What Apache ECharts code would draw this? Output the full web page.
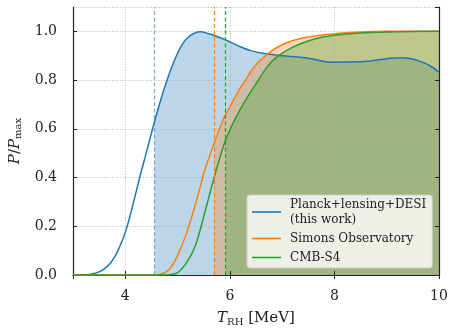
<!DOCTYPE html>
<html>
<head>
<meta charset="utf-8">
<script src="https://cdn.jsdelivr.net/npm/echarts@6/dist/echarts.min.js"></script>
<style>
  html, body { margin: 0; padding: 0; background: #fff; }
  #chart { width: 449px; height: 333px; }
</style>
</head>
<body>
<div id="chart"></div>
<script>
const planckX = [3.0, 3.2, 3.3, 3.4, 3.5, 3.6, 3.7, 3.8, 3.9, 4.0, 4.1, 4.2, 4.3, 4.4, 4.56, 4.7, 4.8, 4.9, 5.0, 5.1, 5.2, 5.3, 5.43, 5.6, 5.8, 5.92, 6.0, 6.2, 6.4, 6.7, 7.0, 7.5, 8.0, 8.5, 9.0, 9.3, 9.6, 9.8, 10.0]
const planckY = [0, 0, 0.002, 0.006, 0.013, 0.025, 0.045, 0.075, 0.12, 0.175, 0.25, 0.335, 0.42, 0.5, 0.63, 0.735, 0.8, 0.86, 0.91, 0.95, 0.975, 0.99, 0.998, 0.99, 0.975, 0.965, 0.957, 0.937, 0.921, 0.908, 0.9, 0.89, 0.873, 0.875, 0.888, 0.892, 0.88, 0.862, 0.833]

const simonsX = [3.0, 4.6, 4.7, 4.8, 4.9, 5.0, 5.1, 5.2, 5.3, 5.4, 5.5, 5.6, 5.7, 5.8, 5.9, 6.0, 6.15, 6.3, 6.45, 6.6, 6.8, 7.0, 7.25, 7.5, 8.0, 8.5, 9.0, 10.0]
const simonsY = [0, 0, 0.005, 0.015, 0.04, 0.08, 0.13, 0.19, 0.26, 0.335, 0.415, 0.48, 0.54, 0.6, 0.65, 0.69, 0.75, 0.8, 0.85, 0.885, 0.92, 0.945, 0.965, 0.977, 0.99, 0.997, 1.0, 1.0]

const cmbX = [3.0, 4.8, 4.9, 5.0, 5.1, 5.2, 5.3, 5.4, 5.5, 5.6, 5.7, 5.8, 5.92, 6.0, 6.1, 6.2, 6.35, 6.5, 6.7, 6.9, 7.2, 7.6, 8.0, 8.5, 9.0, 10.0]
const cmbY = [0, 0, 0.003, 0.01, 0.03, 0.06, 0.1, 0.16, 0.24, 0.32, 0.4, 0.475, 0.555, 0.595, 0.64, 0.68, 0.735, 0.785, 0.85, 0.895, 0.935, 0.968, 0.984, 0.993, 0.997, 1.0]

const names = ['Planck+lensing+DESI\n(this work)', 'Simons Observatory', 'CMB-S4']
const lowerBounds = [4.56, 5.70, 5.92]
const colors = ['#1f77b4', '#ff7f0e', '#2ca02c']
const dashColors = ['rgba(31,119,180,0.6)', '#ff7f0e', '#2ca02c']

const curves = [[planckX, planckY], [simonsX, simonsY], [cmbX, cmbY]]

const serif = 'DejaVu Serif'
const ink = '#222'

function pairs(xs, ys) {
  return xs.map((x, i) => [x, ys[i]])
}

const chart = echarts.init(document.getElementById('chart'), null, { renderer: 'canvas' })

let series = []
// shaded regions above each lower bound
curves.forEach((c, k) => {
  series.push({
    name: 'fill' + k,
    type: 'line',
    data: pairs(c[0], c[1]).filter(p => p[0] >= lowerBounds[k]),
    smooth: 0.5,
    showSymbol: false,
    symbol: 'none',
    lineStyle: { width: 0 },
    areaStyle: { color: colors[k], opacity: 0.3 },
    silent: true,
    z: 1
  })
})
curves.forEach((c, k) => {
  series.push({
    name: names[k],
    type: 'line',
    data: pairs(c[0], c[1]),
    smooth: 0.5,
    showSymbol: false,
    symbol: 'none',
    color: colors[k],
    lineStyle: { color: colors[k], width: 1.5 },
    z: 3,
    markLine: {
      silent: true,
      symbol: ['none', 'none'],
      label: { show: false },
      lineStyle: { color: dashColors[k], type: [4, 2.5], width: 1.2 },
      data: [{ xAxis: lowerBounds[k] }]
    }
  })
})

const option = {
  animation: false,
  grid: { left: 73, right: 10, top: 7, bottom: 58, containLabel: false, outerBoundsMode: 'none' },
  legend: {
    data: names,
    orient: 'vertical',
    left: 247,
    top: 195,
    icon: 'rect',
    itemWidth: 29,
    itemHeight: 1.6,
    itemGap: 4,
    padding: [2, 6, 3, 5],
    backgroundColor: 'rgba(255,255,255,0.8)',
    borderColor: '#cccccc',
    borderWidth: 1,
    borderRadius: 3,
    textStyle: { fontFamily: serif, fontSize: 12, color: ink, lineHeight: 15, padding: [0, 0, 0, 4] }
  },
  xAxis: [
    {
      type: 'value', min: 3, max: 10, splitNumber: 4, z: 2,
      name: '{i|T}{s|RH} [MeV]',
      nameLocation: 'middle', nameGap: 34,
      nameTextStyle: {
        fontFamily: serif, fontSize: 15, color: ink,
        rich: {
          i: { fontFamily: serif, fontStyle: 'italic', fontSize: 15, color: ink },
          s: { fontFamily: serif, fontSize: 10, color: ink, verticalAlign: 'bottom', padding: [8, 0, 0, 0] }
        }
      },
      axisLine: { show: true, lineStyle: { color: ink, width: 1.2 } },
      axisTick: { show: true, inside: true, length: 4, lineStyle: { color: ink, width: 1 } },
      axisLabel: { showMinLabel: false, margin: 14, fontFamily: serif, fontSize: 14, color: ink },
      splitLine: { show: true, lineStyle: { color: '#aaaaaa', width: 0.8, type: [1, 1.6] } }
    },
    {
      type: 'value', min: 3, max: 10, splitNumber: 4, position: 'top', z: 2,
      axisLine: { show: true, lineStyle: { color: ink, width: 1.2 } },
      axisTick: { show: true, inside: true, length: 4, lineStyle: { color: ink, width: 1 } },
      axisLabel: { show: false },
      splitLine: { show: false }
    }
  ],
  yAxis: [
    {
      type: 'value', min: 0, max: 1.1, interval: 0.2, z: 2,
      name: '{i|P}/{i|P}{s|max}',
      nameLocation: 'middle', nameGap: 47,
      nameTextStyle: {
        fontFamily: serif, fontSize: 15, color: ink,
        rich: {
          i: { fontFamily: serif, fontStyle: 'italic', fontSize: 15, color: ink },
          s: { fontFamily: serif, fontSize: 10, color: ink, verticalAlign: 'bottom', padding: [8, 0, 0, 0] }
        }
      },
      axisLine: { show: true, lineStyle: { color: ink, width: 1.2 } },
      axisTick: { show: true, inside: true, length: 4, lineStyle: { color: ink, width: 1 } },
      axisLabel: {
        showMaxLabel: false, margin: 16, fontFamily: serif, fontSize: 14, color: ink,
        formatter: v => v.toFixed(1)
      },
      splitLine: { show: true, lineStyle: { color: '#aaaaaa', width: 0.8, type: [1, 1.6] } }
    },
    {
      type: 'value', min: 0, max: 1.1, interval: 0.2, position: 'right', z: 2,
      axisLine: { show: true, lineStyle: { color: ink, width: 1.2 } },
      axisTick: { show: true, inside: true, length: 4, lineStyle: { color: ink, width: 1 } },
      axisLabel: { show: false },
      splitLine: { show: false }
    }
  ],
  series: series
}

chart.setOption(option)
</script>
</body>
</html>
